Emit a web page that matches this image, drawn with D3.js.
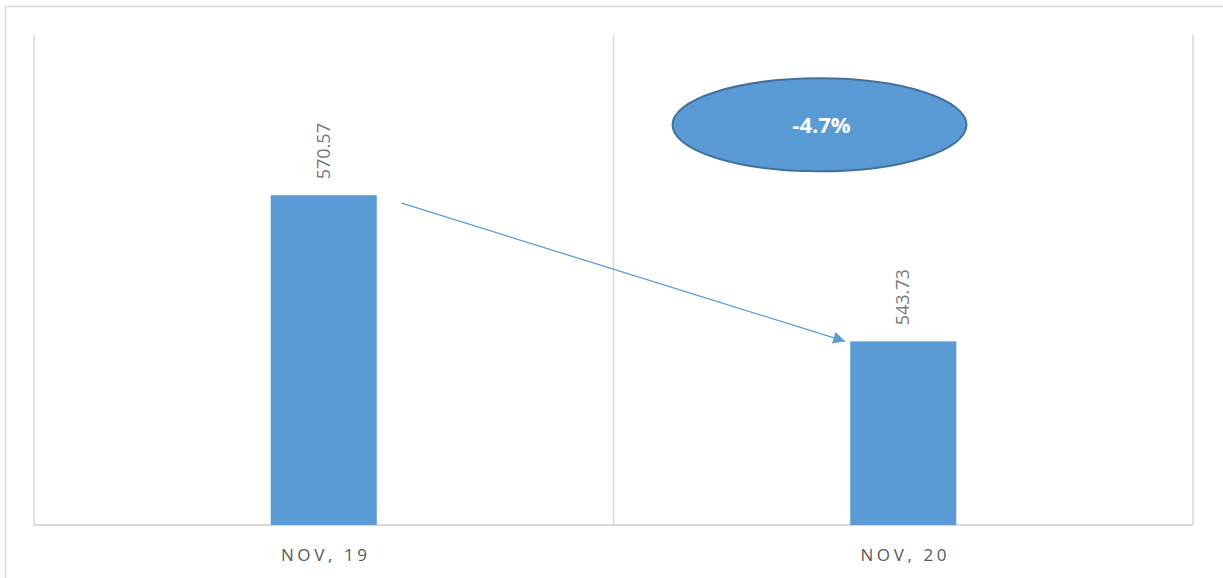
<!DOCTYPE html>
<html>
<head>
<meta charset="utf-8">
<script src="https://cdn.jsdelivr.net/npm/d3@7"></script>
<style>
  body { margin: 0; background: #fff; }
  text { font-family: "Open Sans", sans-serif; }
</style>
</head>
<body>
<svg id="chart" width="1223" height="578"></svg>
<script>
// data
const categories = ["NOV, 19", "NOV, 20"];
const values = [570.57, 543.73];
const changeLabel = "-4.7%";

const svg = d3.select("#chart"),
    width = +svg.attr("width"),
    height = +svg.attr("height");

const margin = {top: 35, right: 30, bottom: 53, left: 34};

// outer chart frame
svg.append("rect")
    .attr("x", 5.5).attr("y", 6.5)
    .attr("width", 1240).attr("height", 600)
    .attr("fill", "none")
    .attr("stroke", "#d9d9d9")
    .attr("stroke-width", 1.5);

const x = d3.scaleBand()
    .domain(categories)
    .range([margin.left, width - margin.right]);

const y = d3.scaleLinear()
    .domain([510, 600])
    .range([height - margin.bottom, margin.top]);

const barW = x.bandwidth() * 0.183;

// vertical gridlines at category edges
const edges = categories.map(c => x(c)).concat([x.range()[1]]);
svg.append("g")
    .selectAll("line")
    .data(edges)
    .enter().append("line")
    .attr("x1", d => d).attr("x2", d => d)
    .attr("y1", y(600)).attr("y2", y(510))
    .attr("stroke", "#d9d9d9")
    .attr("stroke-width", 1.5);

// baseline
svg.append("line")
    .attr("x1", x.range()[0]).attr("x2", x.range()[1])
    .attr("y1", y(510)).attr("y2", y(510))
    .attr("stroke", "#d9d9d9")
    .attr("stroke-width", 2);

// bars
svg.selectAll(".bar")
    .data(values)
    .enter().append("rect")
    .attr("class", "bar")
    .attr("x", (d, i) => x(categories[i]) + (x.bandwidth() - barW) / 2)
    .attr("y", d => y(d))
    .attr("width", barW)
    .attr("height", d => y(510) - y(d))
    .attr("fill", "#5b9bd5");

// value labels, rotated
svg.selectAll(".val")
    .data(values)
    .enter().append("text")
    .attr("class", "val")
    .attr("transform", (d, i) => "translate(" + (x(categories[i]) + x.bandwidth() / 2 + 6) + "," + (y(d) - 16) + ") rotate(-90)")
    .attr("text-anchor", "start")
    .attr("font-size", 18)
    .attr("fill", "#7a7a7a")
    .text(d => d.toFixed(2));

// category labels
svg.selectAll(".cat")
    .data(categories)
    .enter().append("text")
    .attr("class", "cat")
    .attr("x", d => x(d) + x.bandwidth() / 2 + 2)
    .attr("y", height - 17)
    .attr("text-anchor", "middle")
    .attr("font-size", 17)
    .attr("letter-spacing", "3.6px")
    .attr("fill", "#595959")
    .text(d => d);

// arrow from first bar to second
svg.append("defs").append("marker")
    .attr("id", "head")
    .attr("viewBox", "0 0 10 10")
    .attr("refX", 10).attr("refY", 5)
    .attr("markerWidth", 16).attr("markerHeight", 12)
    .attr("markerUnits", "userSpaceOnUse")
    .attr("orient", "auto")
    .append("path")
    .attr("d", "M0,0 L10,5 L0,10 z")
    .attr("fill", "#5b9bd5");

const x0 = x(categories[0]) + (x.bandwidth() + barW) / 2 + 25,
    y0 = y(values[0]) + 8,
    x1 = x(categories[1]) + (x.bandwidth() - barW) / 2 - 5,
    y1 = y(values[1]);

svg.append("line")
    .attr("x1", x0).attr("y1", y0)
    .attr("x2", x1).attr("y2", y1)
    .attr("stroke", "#5b9bd5")
    .attr("stroke-width", 1.3)
    .attr("marker-end", "url(#head)");

// change bubble
const cx = x(categories[1]) + 206, cy = y(583.5);
svg.append("ellipse")
    .attr("cx", cx).attr("cy", cy)
    .attr("rx", 147).attr("ry", 46.5)
    .attr("fill", "#5b9bd5")
    .attr("stroke", "#41719c")
    .attr("stroke-width", 2);

svg.append("text")
    .attr("x", cx + 2).attr("y", cy + 8)
    .attr("text-anchor", "middle")
    .attr("font-size", 22)
    .attr("font-weight", "bold")
    .attr("fill", "#fff")
    .text(changeLabel);
</script>
</body>
</html>
